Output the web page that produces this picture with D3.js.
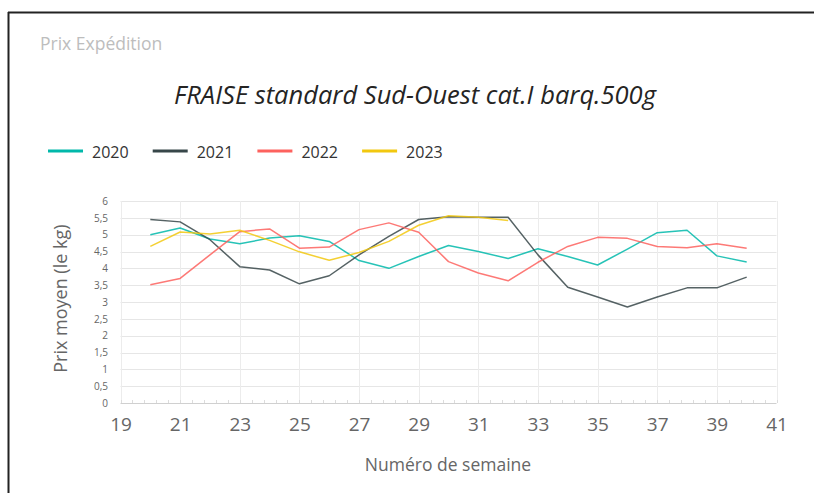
<!DOCTYPE html>
<html>
<head>
<meta charset="utf-8">
<script src="https://cdn.jsdelivr.net/npm/d3@7"></script>
<style>
  body { margin: 0; background: #fff; font-family: "Open Sans", "Noto Sans", sans-serif; }
  svg text { font-family: "Open Sans", "Noto Sans", sans-serif; }
</style>
</head>
<body>
<div id="chart"></div>
<script>
// weeks 20..40
const weeks = d3.range(20, 41);
const years = ['2020', '2021', '2022', '2023'];
const colors = ['#01B8AA', '#374649', '#FD625E', '#F2C80F'];

const v2020 = [5.0, 5.2, 4.87, 4.73, 4.9, 4.97, 4.8, 4.23, 4.0, 4.35, 4.68, 4.5, 4.29, 4.58, 4.35, 4.1, 4.57, 5.06, 5.13, 4.37, 4.19];
const v2021 = [5.45, 5.38, 4.85, 4.05, 3.95, 3.54, 3.78, 4.4, 4.95, 5.45, 5.53, 5.52, 5.52, 4.4, 3.44, 3.15, 2.85, 3.15, 3.42, 3.42, 3.74];
const v2022 = [3.51, 3.7, 4.4, 5.09, 5.17, 4.6, 4.63, 5.15, 5.35, 5.07, 4.2, 3.86, 3.63, 4.18, 4.65, 4.92, 4.89, 4.65, 4.61, 4.73, 4.6];
const v2023 = [4.65, 5.08, 5.02, 5.13, 4.83, 4.49, 4.24, 4.47, 4.8, 5.28, 5.56, 5.52, 5.42];
const series = [v2020, v2021, v2022, v2023];

const xTicks = d3.range(19, 42, 2);
const xMinor = d3.range(19, 41.01, 0.4);
const yTicks = d3.range(0, 6.01, 0.5);

const width = 814, height = 493;
const svg = d3.select('#chart').append('svg')
    .attr('width', width)
    .attr('height', height);

// frame
svg.append('line').attr('x1', 8).attr('x2', width).attr('y1', 12.5).attr('y2', 12.5)
    .attr('stroke', '#222').attr('stroke-width', 2);
svg.append('line').attr('x1', 8.5).attr('x2', 8.5).attr('y1', 12).attr('y2', height)
    .attr('stroke', '#222').attr('stroke-width', 2);

svg.append('text')
    .attr('x', 40).attr('y', 50)
    .attr('fill', '#bdbdbd')
    .style('font-size', '17.5px')
    .text('Prix Expédition');

svg.append('text')
    .attr('x', 415).attr('y', 104)
    .attr('text-anchor', 'middle')
    .attr('fill', '#252423')
    .style('font-size', '25.5px')
    .style('font-style', 'italic')
    .text('FRAISE standard Sud-Ouest cat.I barq.500g');

// legend
const legend = svg.append('g');
years.forEach((yr, i) => {
    const gx = 48 + i * 104.7;
    legend.append('line')
        .attr('x1', gx).attr('x2', gx + 35)
        .attr('y1', 151).attr('y2', 151)
        .attr('stroke', colors[i]).attr('stroke-width', 3);
    legend.append('text')
        .attr('x', gx + 44).attr('y', 157.5)
        .attr('fill', '#333')
        .style('font-size', '16px')
        .text(yr);
});

const x = d3.scaleLinear().domain([19, 41]).range([120.5, 776.5]);
const y = d3.scaleLinear().domain([0, 6]).range([403, 201]);

// grid
svg.append('g').selectAll('line')
    .data(yTicks)
    .enter().append('line')
    .attr('x1', x(19)).attr('x2', x(41))
    .attr('y1', d => Math.round(y(d)) + 0.5).attr('y2', d => Math.round(y(d)) + 0.5)
    .attr('stroke', d => d === 0 ? '#d0d0d0' : '#e6e6e6');
svg.append('g').selectAll('line')
    .data(xTicks)
    .enter().append('line')
    .attr('x1', d => Math.round(x(d)) + 0.5).attr('x2', d => Math.round(x(d)) + 0.5)
    .attr('y1', y(6)).attr('y2', y(0))
    .attr('stroke', '#ececec');
// small ticks along the base line
svg.append('g').selectAll('line')
    .data(xMinor)
    .enter().append('line')
    .attr('x1', d => Math.round(x(d)) + 0.5).attr('x2', d => Math.round(x(d)) + 0.5)
    .attr('y1', y(0) - 3).attr('y2', y(0))
    .attr('stroke', '#dcdcdc');

// axes
const yAxis = svg.append('g')
    .attr('transform', `translate(${x(19) - 9.5},0)`)
    .call(d3.axisLeft(y).tickValues(yTicks).tickSize(0)
        .tickFormat(d => String(d).replace('.', ',')));
yAxis.select('.domain').remove();
yAxis.selectAll('text').attr('fill', '#666').style('font-size', '10px').attr('dx', 0);

const xAxis = svg.append('g')
    .attr('transform', `translate(0,${y(0) + 11})`)
    .call(d3.axisBottom(x).tickValues(xTicks).tickSize(0));
xAxis.select('.domain').remove();
xAxis.selectAll('text').attr('fill', '#666').style('font-size', '19px');

svg.append('text')
    .attr('transform', `translate(67,${y(3.1)}) rotate(-90)`)
    .attr('text-anchor', 'middle')
    .attr('fill', '#666')
    .style('font-size', '18px')
    .text('Prix moyen  (le kg)');

svg.append('text')
    .attr('x', 448).attr('y', 471)
    .attr('text-anchor', 'middle')
    .attr('fill', '#666')
    .style('font-size', '17.5px')
    .text('Numéro de semaine');

// lines
const line = d3.line()
    .x((d, i) => x(weeks[i]))
    .y(d => y(d));

svg.append('g').selectAll('path')
    .data(series)
    .enter().append('path')
    .attr('d', d => line(d))
    .attr('fill', 'none')
    .attr('stroke', (d, i) => colors[i])
    .attr('stroke-opacity', 0.85)
    .attr('stroke-width', 1.5)
    .attr('stroke-linejoin', 'round');
</script>
</body>
</html>
